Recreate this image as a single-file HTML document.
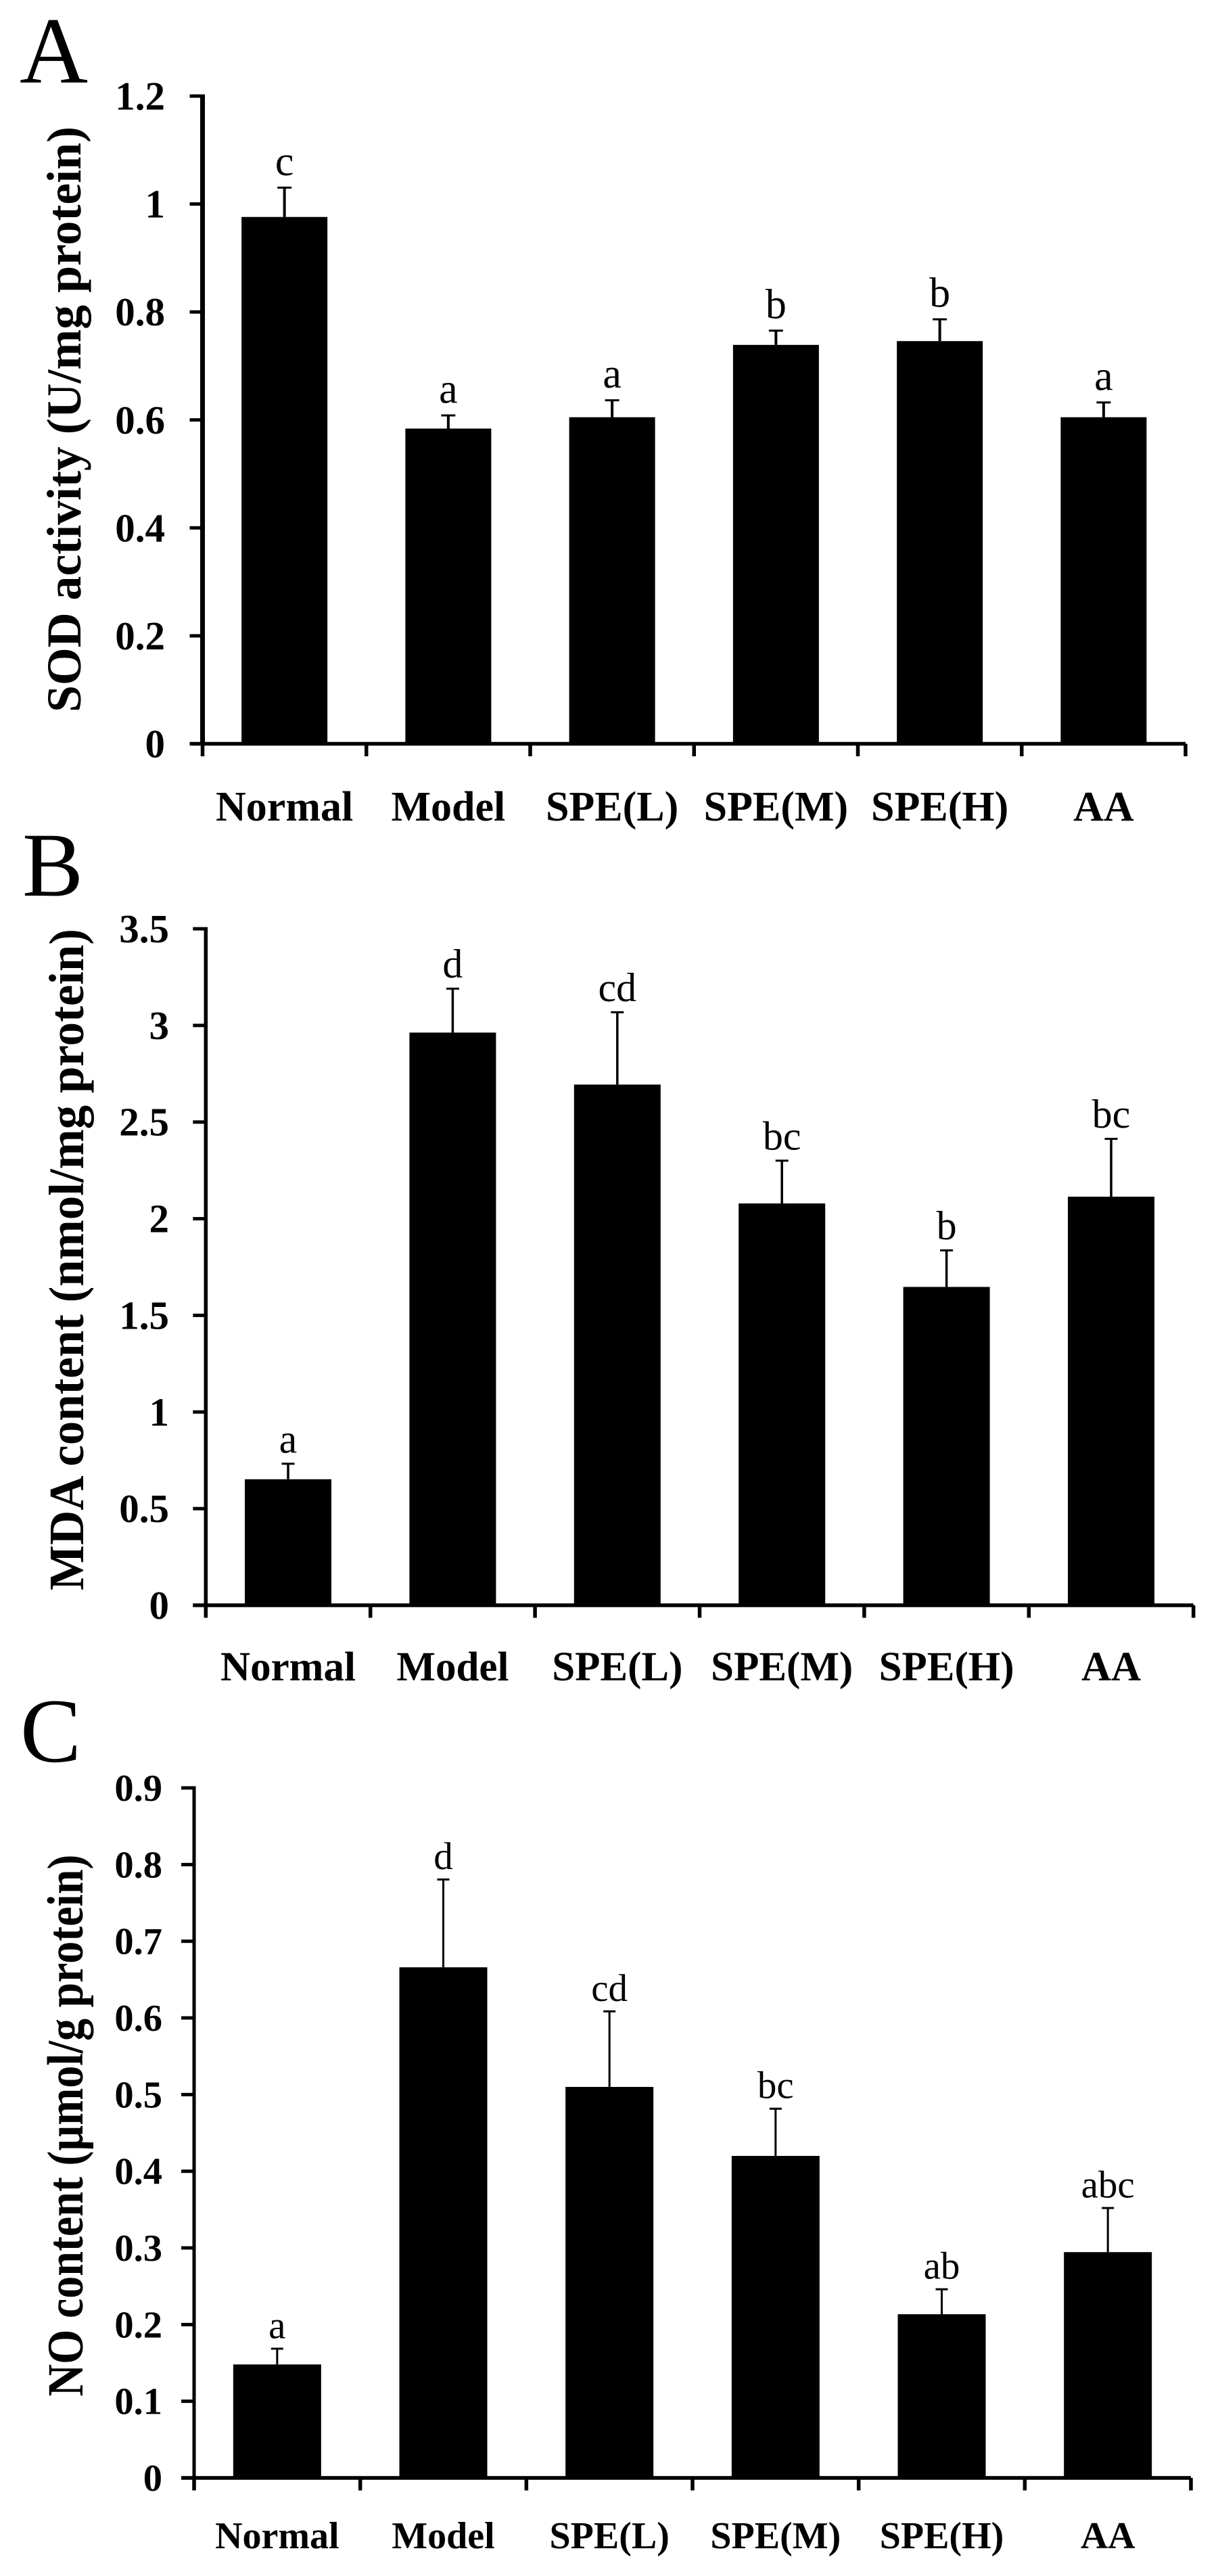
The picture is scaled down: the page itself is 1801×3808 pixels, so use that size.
<!DOCTYPE html>
<html lang="en">
<head>
<meta charset="utf-8">
<title>SOD, MDA and NO bar charts</title>
<style>
html,body{margin:0;padding:0;background:#fff;}
svg{display:block;}
text{font-family:"Liberation Serif",serif;fill:#000;}
</style>
</head>
<body>
<svg id="figure" xmlns="http://www.w3.org/2000/svg" width="1801" height="3808" viewBox="0 0 1801 3808"></svg>
<script>
const categories = ["Normal", "Model", "SPE(L)", "SPE(M)", "SPE(H)", "AA"];

const sodValues = [0.976, 0.584, 0.605, 0.739, 0.746, 0.605];
const sodErrors = [0.055, 0.025, 0.032, 0.027, 0.041, 0.028];
const sodLetters = ["c", "a", "a", "b", "b", "a"];
const sodTicks = [0, 0.2, 0.4, 0.6, 0.8, 1, 1.2];
const sodTickLabels = ["0", "0.2", "0.4", "0.6", "0.8", "1", "1.2"];

const mdaValues = [0.652, 2.963, 2.694, 2.079, 1.647, 2.114];
const mdaErrors = [0.082, 0.229, 0.376, 0.223, 0.191, 0.301];
const mdaLetters = ["a", "d", "cd", "bc", "b", "bc"];
const mdaTicks = [0, 0.5, 1, 1.5, 2, 2.5, 3, 3.5];
const mdaTickLabels = ["0", "0.5", "1", "1.5", "2", "2.5", "3", "3.5"];

const noValues = [0.148, 0.666, 0.510, 0.420, 0.2135, 0.2945];
const noErrors = [0.021, 0.115, 0.099, 0.062, 0.033, 0.058];
const noLetters = ["a", "d", "cd", "bc", "ab", "abc"];
const noTicks = [0, 0.1, 0.2, 0.3, 0.4, 0.5, 0.6, 0.7, 0.8, 0.9];
const noTickLabels = ["0", "0.1", "0.2", "0.3", "0.4", "0.5", "0.6", "0.7", "0.8", "0.9"];

const NS = "http://www.w3.org/2000/svg";
const figure = document.getElementById("figure");

function make(parent, tag, attrs, content) {
  const el = document.createElementNS(NS, tag);
  for (const key in attrs) el.setAttribute(key, attrs[key]);
  if (content !== undefined) el.textContent = content;
  parent.appendChild(el);
  return el;
}

function drawPanel(p) {
  const yMax = p.ticks[p.ticks.length - 1];
  const yScale = v => p.y0 - (v / yMax) * (p.y0 - p.yTop);
  const band = (p.xRight - p.x0) / p.categories.length;
  const xCenter = i => p.x0 + (i + 0.5) * band;

  const g = make(figure, "g", {});
  
  

  const letter = make(g, "text", {x: p.letterX, y: p.letterY, "font-size": p.letterSize}, p.letter);
  
  

  const title = make(g, "text", {
    transform: "translate(" + p.titleX + "," + p.titleY + ") rotate(-90)",
    "text-anchor": "middle", "font-weight": "bold", "font-size": p.titleSize,
    textLength: p.titleLength, lengthAdjust: "spacingAndGlyphs"
  }, p.title);
  
  

  p.values.forEach((v, i) => {
    const cx = xCenter(i);
    const top = yScale(v);
    const bar = make(g, "rect", {x: cx - p.barWidth / 2, y: top, width: p.barWidth, height: p.y0 - top, fill: "#000"});
    
    

    const errTop = yScale(v + p.errors[i]);
    const stem = make(g, "rect", {x: cx - p.stemWidth / 2, y: errTop, width: p.stemWidth, height: top - errTop, fill: "#000"});
    
    
    const cap = make(g, "rect", {x: cx - p.capWidth / 2, y: errTop - 1, width: p.capWidth, height: 3, fill: "#000"});
    
    

    const sig = make(g, "text", {x: cx, y: errTop - p.sigGap, "text-anchor": "middle", "font-size": p.sigSize}, p.letters[i]);
    
    

    const label = make(g, "text", {x: cx, y: p.catY, "text-anchor": "middle", "font-weight": "bold", "font-size": p.catSize}, p.categories[i]);
    
    
  });

  const yAxis = make(g, "rect", {x: p.x0 - p.axisWidth / 2, y: p.yTop - 2.5, width: p.axisWidth, height: p.y0 - p.yTop + 5, fill: "#000"});
  
  
  const xAxis = make(g, "rect", {x: p.x0 - 19, y: p.y0 - 2.75, width: p.xRight - p.x0 + 19, height: 5.5, fill: "#000"});
  
  

  p.ticks.forEach((t, i) => {
    const y = yScale(t);
    const tick = make(g, "rect", {x: p.x0 - 19, y: y - 2.5, width: 19, height: 5, fill: "#000"});
    
    
    const label = make(g, "text", {x: p.tickX, y: y + p.tickOffset, "text-anchor": "end", "font-weight": "bold", "font-size": p.tickSize}, p.tickLabels[i]);
    
    
  });

  for (let i = 0; i <= p.categories.length; i++) {
    const tick = make(g, "rect", {x: p.x0 + i * band - 2.75, y: p.y0, width: 5.5, height: 18.5, fill: "#000"});
    
    
  }
}

drawPanel({
  key: "sod", letter: "A", letterX: 29, letterY: 122, letterSize: 140,
  title: "SOD activity (U/mg protein)", titleX: 119, titleY: 620, titleSize: 72, titleLength: 866,
  categories: categories, values: sodValues, errors: sodErrors, letters: sodLetters,
  ticks: sodTicks, tickLabels: sodTickLabels,
  x0: 299.5, xRight: 1753, yTop: 142, y0: 1099.5,
  axisWidth: 7, stemWidth: 4, capWidth: 21,
  barWidth: 127, catY: 1213, catSize: 62, tickX: 244, tickOffset: 20, tickSize: 59, sigGap: 18, sigSize: 62
});

drawPanel({
  key: "mda", letter: "B", letterX: 33, letterY: 1324, letterSize: 135,
  title: "MDA content (nmol/mg protein)", titleX: 123, titleY: 1862, titleSize: 73, titleLength: 978,
  categories: categories, values: mdaValues, errors: mdaErrors, letters: mdaLetters,
  ticks: mdaTicks, tickLabels: mdaTickLabels,
  x0: 304.3, xRight: 1764.7, yTop: 1373, y0: 2373,
  axisWidth: 5.5, stemWidth: 3.5, capWidth: 19,
  barWidth: 128, catY: 2484, catSize: 61, tickX: 250, tickOffset: 20, tickSize: 59, sigGap: 16, sigSize: 60
});

drawPanel({
  key: "no", letter: "C", letterX: 30, letterY: 2604, letterSize: 135,
  title: "NO content (\u00b5mol/g protein)", titleX: 122, titleY: 3142, titleSize: 75, titleLength: 801,
  categories: categories, values: noValues, errors: noErrors, letters: noLetters,
  ticks: noTicks, tickLabels: noTickLabels,
  x0: 287, xRight: 1761, yTop: 2643, y0: 3663,
  axisWidth: 5, stemWidth: 3, capWidth: 18,
  barWidth: 130, catY: 3767, catSize: 56, tickX: 240, tickOffset: 19, tickSize: 56.5, sigGap: 15, sigSize: 57
});
</script>
</body>
</html>
